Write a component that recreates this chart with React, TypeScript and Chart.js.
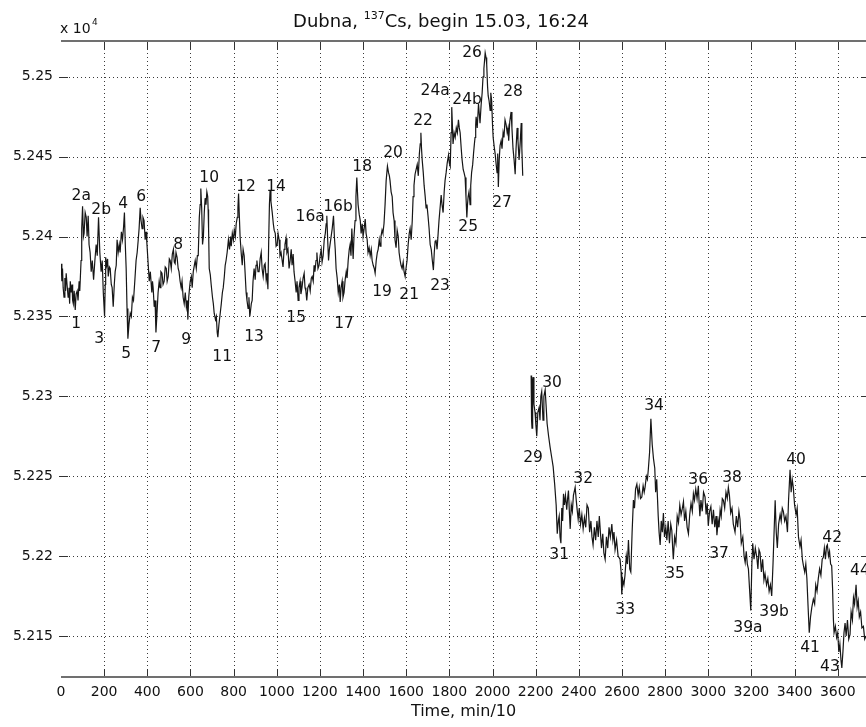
import React, { useEffect, useRef } from 'react';
import { Chart, registerables } from 'chart.js';
Chart.register(...registerables);

// ---- data (time in min/10, counts in units of 10^4) ----
const seg1X = [1,4,7,10,14,18,21,24,28,33,37,40,43,47,51,54,57,61,66,70,75,79,84,87,89,93,96,100,104,107,112,117,121,126,130,135,140,145,151,157,163,168,174,180,186,191,196,202,205,207,212,216,219,224,228,233,237,242,247,251,256,260,265,270,274,280,285,290,294,298,302,306,310,315,321,326,331,336,342,348,353,358,362,367,371,376,380,385,390,394,398,403,409,414,421,424,427,432,436,440,445,450,455,459,463,468,473,478,483,488,492,497,502,506,511,516,521,525,529,533,538,543,547,552,557,561,566,571,576,581,585,588,592,596,599,604,608,613,618,622,627,632,636,641,645,648,652,656,660,664,668,672,676,680,682,684,687,692,696,702,706,710,716,720,724,727,732,738,743,748,752,757,761,765,770,776,781,786,789,794,799,803,808,812,817,820,823,826,830,835,840,844,849,853,858,862,867,871,875,877,882,886,890,895,900,904,908,913,918,923,928,932,937,942,946,951,955,959,963,966,969,973,979,984,988,993,997,1002,1006,1011,1015,1020,1025,1029,1034,1038,1043,1047,1052,1057,1062,1067,1071,1076,1080,1085,1090,1094,1099,1103,1108,1112,1117,1122,1127,1131,1135,1139,1144,1150,1155,1160,1164,1169,1173,1177,1182,1186,1191,1196,1201,1206,1210,1215,1220,1225,1229,1232,1236,1240,1244,1248,1252,1257,1263,1267,1271,1275,1280,1285,1290,1294,1298,1303,1307,1312,1317,1322,1326,1331,1336,1340,1344,1348,1354,1358,1363,1367,1371,1374,1377,1382,1387,1391,1396,1400,1405,1410,1414,1419,1423,1428,1433,1438,1442,1447,1452,1456,1461,1466,1470,1475,1479,1483,1488,1492,1497,1502,1507,1513,1518,1522,1525,1530,1535,1539,1544,1548,1553,1558,1563,1567,1572,1576,1581,1586,1590,1595,1599,1604,1609,1614,1618,1623,1628,1632,1636,1641,1646,1651,1656,1661,1665,1668,1671,1674,1679,1683,1688,1692,1696,1701,1706,1711,1716,1721,1726,1730,1734,1738,1743,1748,1752,1757,1762,1766,1771,1776,1780,1785,1790,1796,1800,1804,1808,1811,1814,1817,1822,1827,1832,1837,1842,1846,1850,1855,1859,1864,1868,1873,1877,1881,1884,1887,1891,1896,1899,1903,1908,1912,1916,1919,1922,1924,1929,1935,1938,1942,1947,1952,1956,1960,1963,1966,1970,1973,1977,1980,1984,1989,1992,1996,2000,2003,2008,2012,2017,2021,2024,2027,2031,2035,2040,2044,2049,2053,2058,2063,2068,2072,2075,2080,2086,2090,2095,2100,2105,2109,2114,2118,2123,2128,2133,2136,2140];
const seg1Y = [5.2383,5.2372,5.2380,5.2368,5.2362,5.2374,5.2366,5.2377,5.2370,5.2362,5.2368,5.2358,5.2372,5.2365,5.2370,5.2360,5.2358,5.2366,5.2354,5.2364,5.2366,5.2360,5.2372,5.2366,5.2372,5.2385,5.2405,5.2419,5.2400,5.2402,5.2415,5.2412,5.2400,5.2413,5.2395,5.2390,5.2378,5.2385,5.2373,5.2385,5.2395,5.2388,5.2412,5.2390,5.2378,5.2385,5.2365,5.2350,5.2370,5.2387,5.2382,5.2386,5.2375,5.2381,5.2380,5.2370,5.2368,5.2356,5.2370,5.2378,5.2382,5.2398,5.2390,5.2395,5.2390,5.2403,5.2398,5.2406,5.2415,5.2395,5.2380,5.2355,5.2336,5.2345,5.2352,5.2350,5.2362,5.2360,5.2372,5.2385,5.2390,5.2398,5.2405,5.2418,5.2410,5.2405,5.2412,5.2410,5.2398,5.2403,5.2396,5.2385,5.2372,5.2378,5.2365,5.2372,5.2368,5.2356,5.2360,5.2340,5.2352,5.2365,5.2372,5.2368,5.2378,5.2377,5.2370,5.2372,5.2381,5.2380,5.2372,5.2375,5.2386,5.2385,5.2380,5.2389,5.2392,5.2384,5.2383,5.2390,5.2387,5.2380,5.2378,5.2372,5.2368,5.2372,5.2362,5.2358,5.2365,5.2356,5.2360,5.2348,5.2362,5.2368,5.2372,5.2375,5.2368,5.2378,5.2382,5.2385,5.2380,5.2388,5.2388,5.2412,5.2420,5.2430,5.2418,5.2395,5.2400,5.2415,5.2424,5.2420,5.2428,5.2425,5.2417,5.2405,5.2380,5.2376,5.2370,5.2362,5.2358,5.2352,5.2348,5.2350,5.2340,5.2337,5.2345,5.2352,5.2358,5.2365,5.2368,5.2375,5.2382,5.2385,5.2390,5.2398,5.2392,5.2400,5.2394,5.2402,5.2398,5.2404,5.2400,5.2408,5.2412,5.2418,5.2427,5.2415,5.2400,5.2390,5.2382,5.2392,5.2388,5.2378,5.2365,5.2360,5.2355,5.2362,5.2350,5.2352,5.2358,5.2360,5.2372,5.2380,5.2373,5.2382,5.2385,5.2378,5.2378,5.2386,5.2390,5.2380,5.2375,5.2382,5.2383,5.2373,5.2377,5.2367,5.2400,5.2420,5.2429,5.2422,5.2415,5.2408,5.2404,5.2402,5.2394,5.2395,5.2402,5.2398,5.2388,5.2390,5.2385,5.2381,5.2392,5.2395,5.2399,5.2390,5.2392,5.2380,5.2385,5.2392,5.2382,5.2389,5.2378,5.2372,5.2365,5.2372,5.2360,5.2368,5.2372,5.2364,5.2368,5.2374,5.2377,5.2368,5.2366,5.2360,5.2368,5.2370,5.2366,5.2374,5.2375,5.2372,5.2382,5.2378,5.2385,5.2390,5.2380,5.2382,5.2388,5.2392,5.2384,5.2388,5.2398,5.2402,5.2408,5.2413,5.2398,5.2385,5.2392,5.2396,5.2400,5.2405,5.2413,5.2400,5.2392,5.2380,5.2374,5.2365,5.2370,5.2359,5.2368,5.2372,5.2362,5.2365,5.2373,5.2378,5.2374,5.2385,5.2392,5.2395,5.2388,5.2405,5.2386,5.2400,5.2410,5.2425,5.2437,5.2428,5.2420,5.2414,5.2410,5.2402,5.2408,5.2400,5.2405,5.2411,5.2402,5.2398,5.2390,5.2393,5.2388,5.2392,5.2385,5.2382,5.2380,5.2377,5.2385,5.2390,5.2392,5.2398,5.2394,5.2400,5.2404,5.2402,5.2408,5.2420,5.2435,5.2444,5.2440,5.2438,5.2435,5.2428,5.2425,5.2415,5.2410,5.2398,5.2393,5.2404,5.2400,5.2390,5.2385,5.2382,5.2380,5.2384,5.2378,5.2375,5.2380,5.2385,5.2395,5.2402,5.2405,5.2398,5.2410,5.2425,5.2432,5.2439,5.2442,5.2445,5.2438,5.2452,5.2458,5.2465,5.2455,5.2448,5.2440,5.2432,5.2425,5.2418,5.2420,5.2413,5.2405,5.2395,5.2392,5.2385,5.2379,5.2390,5.2397,5.2398,5.2392,5.2402,5.2410,5.2418,5.2426,5.2420,5.2415,5.2428,5.2435,5.2440,5.2446,5.2451,5.2446,5.2444,5.2465,5.2481,5.2470,5.2458,5.2465,5.2462,5.2468,5.2465,5.2473,5.2468,5.2465,5.2455,5.2448,5.2442,5.2440,5.2437,5.2425,5.2412,5.2420,5.2425,5.2428,5.2420,5.2432,5.2440,5.2445,5.2452,5.2458,5.2462,5.2470,5.2475,5.2468,5.2483,5.2478,5.2471,5.2482,5.2490,5.2500,5.2505,5.2510,5.2515,5.2512,5.2508,5.2494,5.2488,5.2485,5.2479,5.2490,5.2485,5.2470,5.2462,5.2456,5.2452,5.2445,5.2440,5.2452,5.2431,5.2448,5.2457,5.2460,5.2455,5.2465,5.2462,5.2473,5.2470,5.2465,5.2468,5.2460,5.2472,5.2478,5.2468,5.2455,5.2448,5.2439,5.2455,5.2468,5.2460,5.2448,5.2458,5.2471,5.2455,5.2438];

const seg2X = [2179,2181,2183,2186,2188,2192,2197,2201,2205,2210,2216,2220,2224,2228,2234,2238,2244,2248,2253,2260,2267,2274,2281,2288,2295,2300,2305,2309,2313,2317,2321,2325,2329,2333,2338,2344,2348,2352,2356,2360,2365,2370,2375,2383,2388,2393,2397,2402,2408,2414,2420,2426,2432,2438,2444,2450,2456,2461,2466,2472,2478,2484,2490,2495,2499,2505,2511,2516,2522,2528,2534,2540,2546,2553,2558,2563,2568,2575,2582,2591,2596,2599,2604,2609,2614,2620,2625,2630,2636,2641,2647,2653,2658,2663,2669,2675,2680,2686,2692,2698,2703,2707,2713,2718,2722,2728,2734,2740,2746,2752,2756,2761,2768,2772,2777,2782,2787,2792,2797,2803,2808,2814,2820,2826,2831,2835,2838,2844,2850,2856,2862,2868,2874,2880,2885,2890,2896,2902,2908,2914,2920,2926,2931,2936,2942,2948,2954,2958,2961,2966,2972,2978,2985,2990,2995,3000,3006,3012,3018,3024,3030,3036,3040,3046,3050,3055,3060,3065,3070,3076,3082,3088,3093,3098,3104,3110,3116,3124,3130,3136,3142,3147,3153,3160,3166,3171,3176,3181,3186,3191,3197,3202,3206,3212,3218,3225,3230,3235,3240,3246,3252,3258,3263,3270,3276,3282,3288,3294,3300,3305,3310,3315,3320,3326,3333,3338,3343,3348,3354,3360,3367,3372,3379,3384,3389,3394,3400,3407,3412,3418,3425,3430,3436,3441,3447,3452,3457,3462,3468,3474,3480,3487,3493,3498,3504,3510,3516,3522,3528,3533,3538,3543,3548,3552,3557,3562,3567,3572,3576,3580,3583,3589,3595,3600,3605,3610,3615,3619,3624,3629,3634,3639,3645,3651,3657,3662,3668,3673,3678,3685,3690,3695,3700,3706,3712,3719,3725,3731];
const seg2Y = [5.2313,5.2285,5.2280,5.2310,5.2312,5.2295,5.2290,5.2282,5.2275,5.2290,5.2293,5.2285,5.2300,5.2303,5.2285,5.2300,5.2304,5.2295,5.2283,5.2275,5.2268,5.2262,5.2256,5.2245,5.2232,5.2214,5.2222,5.2225,5.2212,5.2208,5.2230,5.2222,5.2239,5.2232,5.2238,5.2229,5.2236,5.2241,5.2228,5.2217,5.2232,5.2228,5.2238,5.2243,5.2235,5.2228,5.2223,5.2230,5.2220,5.2226,5.2217,5.2224,5.2218,5.2232,5.2230,5.2215,5.2222,5.2212,5.2207,5.2218,5.2210,5.2222,5.2212,5.2225,5.2217,5.2205,5.2214,5.2202,5.2198,5.2212,5.2205,5.2218,5.2212,5.2220,5.2210,5.2215,5.2204,5.2210,5.2200,5.2198,5.2190,5.2176,5.2185,5.2182,5.2188,5.2200,5.2195,5.2210,5.2192,5.2190,5.2215,5.2235,5.2230,5.2242,5.2245,5.2238,5.2243,5.2236,5.2237,5.2244,5.2240,5.2243,5.2250,5.2248,5.2254,5.2265,5.2286,5.2270,5.2261,5.2255,5.2240,5.2248,5.2225,5.2215,5.2207,5.2222,5.2215,5.2227,5.2212,5.2218,5.2210,5.2222,5.2208,5.2220,5.2216,5.2205,5.2198,5.2212,5.2208,5.2225,5.2221,5.2232,5.2226,5.2230,5.2234,5.2222,5.2228,5.2218,5.2214,5.2226,5.2233,5.2228,5.2239,5.2235,5.2242,5.2236,5.2244,5.2232,5.2225,5.2235,5.2228,5.2240,5.2237,5.2226,5.2233,5.2219,5.2228,5.2231,5.2220,5.2229,5.2218,5.2225,5.2213,5.2222,5.2218,5.2229,5.2225,5.2236,5.2235,5.2230,5.2240,5.2236,5.2243,5.2238,5.2227,5.2230,5.2220,5.2215,5.2225,5.2218,5.2228,5.2223,5.2208,5.2212,5.2200,5.2196,5.2203,5.2195,5.2192,5.2180,5.2166,5.2195,5.2208,5.2198,5.2205,5.2199,5.2192,5.2204,5.2202,5.2190,5.2198,5.2185,5.2189,5.2182,5.2186,5.2178,5.2182,5.2175,5.2195,5.2215,5.2235,5.2215,5.2205,5.2220,5.2226,5.2222,5.2230,5.2228,5.2222,5.2225,5.2215,5.2235,5.2254,5.2240,5.2248,5.2243,5.2232,5.2226,5.2230,5.2212,5.2206,5.2210,5.2198,5.2194,5.2190,5.2195,5.2186,5.2170,5.2152,5.2162,5.2168,5.2173,5.2170,5.2182,5.2178,5.2186,5.2192,5.2188,5.2198,5.2199,5.2205,5.2198,5.2206,5.2207,5.2200,5.2203,5.2195,5.2194,5.2180,5.2160,5.2152,5.2156,5.2149,5.2152,5.2140,5.2145,5.2135,5.2130,5.2140,5.2152,5.2158,5.2150,5.2160,5.2148,5.2151,5.2165,5.2160,5.2174,5.2170,5.2182,5.2168,5.2172,5.2162,5.2165,5.2155,5.2156,5.2148,5.2150];

const xTicks = [0,200,400,600,800,1000,1200,1400,1600,1800,2000,2200,2400,2600,2800,3000,3200,3400,3600];
const yTicks = [5.215,5.22,5.225,5.23,5.235,5.24,5.245,5.25];
const yTickLabels = ['5.215','5.22','5.225','5.23','5.235','5.24','5.245','5.25'];

const annLabels = ['1','2a','2b','3','4','5','6','7','8','9','10','11','12','13','14','15','16a','16b','17','18','19','20','21','22','23','24a','24b','25','26','27','28','29','30','31','32','33','34','35','36','37','38','39a','39b','40','41','42','43','44'];
const annX = [70,94,186,177,288,302,372,441,543,580,687,747,858,895,997,1090,1155,1284,1312,1396,1488,1539,1614,1678,1757,1734,1882,1887,1905,2044,2095,2188,2276,2309,2420,2615,2749,2846,2953,3050,3110,3184,3305,3407,3472,3574,3564,3703];
const annY = [5.23455,5.24251,5.24164,5.23361,5.24201,5.23265,5.24245,5.23304,5.2395,5.23354,5.24364,5.23248,5.24308,5.23373,5.24308,5.23492,5.2412,5.24182,5.23455,5.24433,5.23655,5.24521,5.23636,5.24722,5.23693,5.2491,5.24854,5.24063,5.25149,5.24208,5.24904,5.22614,5.23085,5.22005,5.22482,5.2166,5.2294,5.21886,5.22476,5.22011,5.22488,5.21547,5.21648,5.22601,5.21422,5.22112,5.21303,5.21905];

const titleBefore = 'Dubna, ';
const titleSup = '137';
const titleAfter = 'Cs, begin 15.03, 16:24';
const xAxisTitle = 'Time, min/10';
const X_MIN = 0;
const X_MAX = 3731;
const Y_MIN = 5.21243;
const Y_MAX = 5.25224;

const FONT = '"DejaVu Sans", sans-serif';

const framePlugin = {
  id: 'matlabFrame',
  beforeDatasetsDraw(chart: any) {
    const { ctx, chartArea: a, scales } = chart;
    const x = scales.x, y = scales.y;
    ctx.save();
    ctx.strokeStyle = '#3a3a3a';
    ctx.lineWidth = 1;
    ctx.setLineDash([1, 3]);
    xTicks.forEach((v) => {
      if (v === 0) return;
      const px = Math.round(x.getPixelForValue(v)) + 0.5;
      ctx.beginPath(); ctx.moveTo(px, a.top); ctx.lineTo(px, a.bottom); ctx.stroke();
    });
    yTicks.forEach((v) => {
      const py = Math.round(y.getPixelForValue(v)) + 0.5;
      ctx.beginPath(); ctx.moveTo(a.left, py); ctx.lineTo(a.right, py); ctx.stroke();
    });
    ctx.setLineDash([]);
    ctx.strokeStyle = '#333';
    xTicks.forEach((v) => {
      if (v === 0) return;
      const px = Math.round(x.getPixelForValue(v)) + 0.5;
      ctx.beginPath(); ctx.moveTo(px, a.bottom); ctx.lineTo(px, a.bottom - 8); ctx.stroke();
      ctx.beginPath(); ctx.moveTo(px, a.top); ctx.lineTo(px, a.top + 8); ctx.stroke();
    });
    yTicks.forEach((v) => {
      const py = Math.round(y.getPixelForValue(v)) + 0.5;
      ctx.beginPath(); ctx.moveTo(a.left - 2, py); ctx.lineTo(a.left + 7, py); ctx.stroke();
      ctx.beginPath(); ctx.moveTo(a.right - 5, py); ctx.lineTo(a.right, py); ctx.stroke();
    });
    ctx.strokeStyle = '#707070';
    ctx.lineWidth = 2;
    ctx.beginPath(); ctx.moveTo(a.left, a.top); ctx.lineTo(a.right, a.top); ctx.stroke();
    ctx.beginPath(); ctx.moveTo(a.left, a.bottom); ctx.lineTo(a.right, a.bottom); ctx.stroke();
    ctx.restore();
  },
  afterDatasetsDraw(chart: any) {
    const { ctx, scales } = chart;
    const x = scales.x, y = scales.y;
    ctx.save();
    ctx.fillStyle = '#111';
    ctx.font = '15.5px ' + FONT;
    ctx.textAlign = 'center';
    ctx.textBaseline = 'middle';
    annLabels.forEach((t, i) => {
      ctx.fillText(t, x.getPixelForValue(annX[i]), y.getPixelForValue(annY[i]));
    });
    ctx.restore();
  },
  afterDraw(chart: any) {
    const { ctx, chartArea: a } = chart;
    ctx.save();
    ctx.fillStyle = '#111';
    ctx.textBaseline = 'alphabetic';
    ctx.textAlign = 'left';
    const mainFont = '18px ' + FONT;
    const supFont = '11px ' + FONT;
    ctx.font = mainFont;
    const w1 = ctx.measureText(titleBefore).width;
    const w3 = ctx.measureText(titleAfter).width;
    ctx.font = supFont;
    const w2 = ctx.measureText(titleSup).width;
    const total = w1 + w2 + w3;
    let tx = 441 - total / 2;
    const base = 27;
    ctx.font = mainFont;
    ctx.fillText(titleBefore, tx, base);
    tx += w1;
    ctx.font = supFont;
    ctx.fillText(titleSup, tx, base - 8);
    tx += w2;
    ctx.font = mainFont;
    ctx.fillText(titleAfter, tx, base);
    ctx.font = '14px ' + FONT;
    ctx.fillText('x 10', a.left - 1, 33);
    ctx.font = '9px ' + FONT;
    ctx.fillText('4', a.left + 31, 25);
    ctx.font = '16px ' + FONT;
    ctx.textAlign = 'center';
    ctx.textBaseline = 'middle';
    ctx.fillText(xAxisTitle, (a.left + a.right) / 2, 712);
    ctx.restore();
  },
};

export default function App() {
  const ref = useRef<HTMLCanvasElement | null>(null);
  useEffect(() => {
    if (!ref.current) return;
    const chart = new Chart(ref.current, {
      type: 'line',
      data: {
        datasets: [
          {
            data: seg1X.map((v, i) => ({ x: v, y: seg1Y[i] })),
            borderColor: '#161616',
            borderWidth: 1.2,
            pointRadius: 0,
            tension: 0,
            fill: false,
          },
          {
            data: seg2X.map((v, i) => ({ x: v, y: seg2Y[i] })),
            borderColor: '#161616',
            borderWidth: 1.2,
            pointRadius: 0,
            tension: 0,
            fill: false,
          },
        ],
      },
      options: {
        animation: false,
        responsive: false,
        devicePixelRatio: 1,
        layout: { padding: { left: 0, top: 41, right: 0, bottom: 0 } },
        plugins: { legend: { display: false }, tooltip: { enabled: false }, title: { display: false } },
        scales: {
          x: {
            type: 'linear',
            min: X_MIN,
            max: X_MAX,
            grid: { display: false, drawTicks: false },
            border: { display: false },
            afterBuildTicks: (s: any) => { s.ticks = xTicks.map((v) => ({ value: v })); },
            afterFit: (s: any) => { s.height = 50; },
            ticks: {
              autoSkip: false,
              maxRotation: 0,
              padding: 7,
              color: '#111',
              font: { family: FONT, size: 14 },
              callback: (v: any) => String(v),
            },
          },
          y: {
            type: 'linear',
            min: Y_MIN,
            max: Y_MAX,
            grid: { display: false, drawTicks: false },
            border: { display: false },
            afterBuildTicks: (s: any) => { s.ticks = yTicks.map((v) => ({ value: v })); },
            afterFit: (s: any) => { s.width = 61; },
            ticks: {
              autoSkip: false,
              padding: 8,
              color: '#111',
              font: { family: FONT, size: 14 },
              callback: (v: any) => {
                const i = yTicks.findIndex((t) => Math.abs(t - Number(v)) < 1e-7);
                return i >= 0 ? yTickLabels[i] : '';
              },
            },
          },
        },
      },
      plugins: [framePlugin],
    });
    return () => chart.destroy();
  }, []);
  return (
    <div style={{ position: 'absolute', left: 0, top: 0, width: 866, height: 727, background: '#fff' }}>
      <canvas ref={ref} width={866} height={727} style={{ width: 866, height: 727, display: 'block' }} />
    </div>
  );
}
